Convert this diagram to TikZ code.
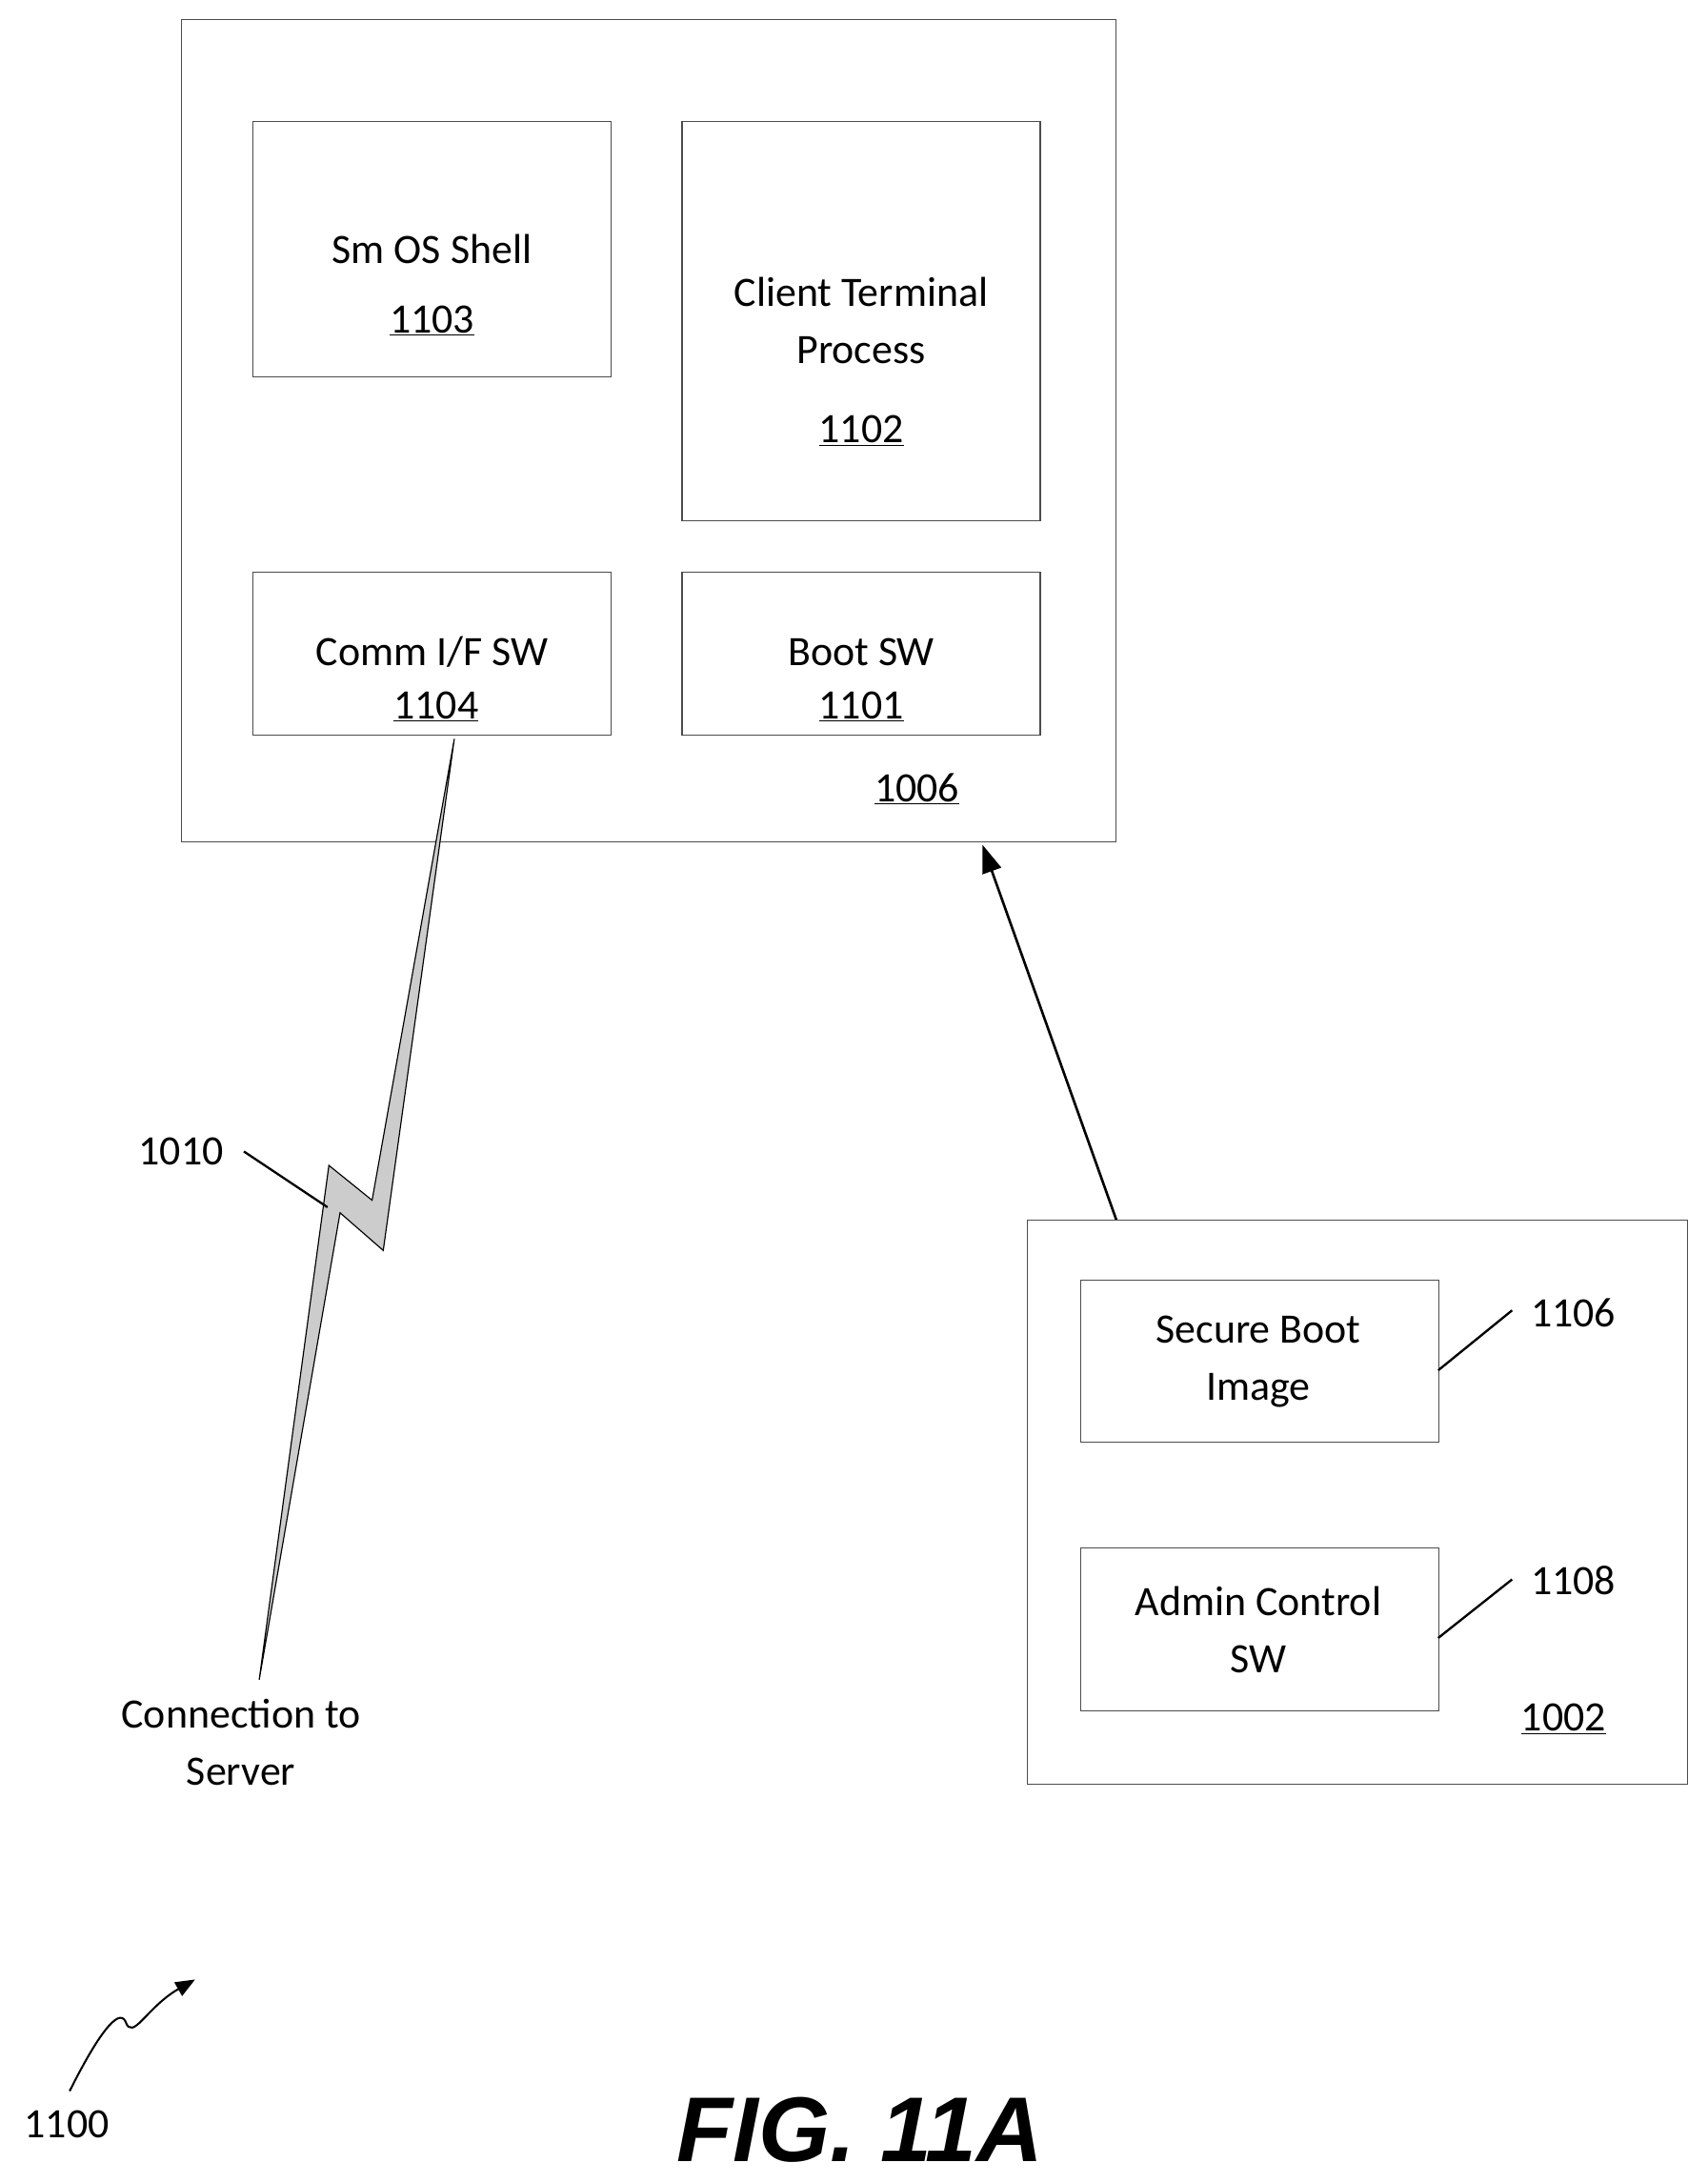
\documentclass[tikz,border=0pt]{standalone}
\usepackage{fontspec}
\setmainfont{Carlito}
\newfontfamily\figfont{Liberation Sans}
\usetikzlibrary{arrows.meta}
\begin{document}
\begin{tikzpicture}[x=1pt,y=-1pt,
 box/.style={draw=black!70,line width=0.8pt},
 lbl/.style={font=\fontsize{30}{41}\selectfont,align=center,inner sep=0pt},
 lead/.style={line width=1.6pt}]
\useasboundingbox (0,0) rectangle (1225,1566);
\draw[box] (130,14) rectangle (801,604);
\node[box,minimum width=257pt,minimum height=183pt,anchor=north west] (b1103) at (181,87) {};
\node[box,minimum width=257pt,minimum height=286pt,anchor=north west] (b1102) at (489,87) {};
\node[box,minimum width=257pt,minimum height=117pt,anchor=north west] (b1104) at (181,410) {};
\node[box,minimum width=257pt,minimum height=117pt,anchor=north west] (b1101) at (489,410) {};
\node[lbl] (t1) at (310,179) {Sm OS Shell};
\node[lbl] (t2) at (310,230) {\underline{1103}};
\node[lbl] (t3) at (618,230) {Client Terminal\\Process};
\node[lbl] (t4) at (618,309) {\underline{1102}};
\node[lbl] (t5) at (310,468) {Comm I/F SW};
\node[lbl] (t6) at (313,507) {\underline{1104}};
\node[lbl] (t7) at (618,468) {Boot SW};
\node[lbl] (t8) at (618,507) {\underline{1101}};
\node[lbl] (l1006) at (658,566) {\underline{1006}};
\coordinate (a1) at (801,875);
\coordinate (a2) at (705,606);
\draw[line width=1.8pt,-{Triangle[length=20pt,width=14pt]}] (a1) -- (a2);
\draw[box] (737,875) rectangle (1211,1280);
\node[box,minimum width=257pt,minimum height=116pt,anchor=north west] (b1106) at (775,918) {};
\node[box,minimum width=257pt,minimum height=117pt,anchor=north west] (b1108) at (775,1110) {};
\node[lbl] (t9) at (903,977) {Secure Boot\\Image};
\node[lbl] (t10) at (903,1169) {Admin Control\\SW};
\node[lbl] (l1106) at (1129,942) {1106};
\node[lbl] (l1108) at (1129,1134) {1108};
\node[lbl] (l1002) at (1122,1233) {\underline{1002}};
\draw[lead] (1032,983) -- (1085,940);
\draw[lead] (1032,1175) -- (1085,1133);
\fill[gray!40,draw=black,line width=0.8pt] (326,530) -- (275,897) -- (244,870) -- (186,1205) -- (236,836) -- (267,861) -- cycle;
\node[lbl] (l1010) at (130,826) {1010};
\draw[lead] (175,826) -- (235,866);
\node[lbl] (conn) at (173,1250) {Connection to\\Server};
\node[lbl] (l1100) at (48,1524) {1100};
\draw[line width=1.4pt,-{Triangle[length=14pt,width=11pt]}] (50,1500) .. controls (70,1460) and (85,1440) .. (90,1450) .. controls (95,1465) and (105,1440) .. (140,1420);
\node[inner sep=0pt,font=\figfont\bfseries\itshape\fontsize{66}{70}\selectfont] (fig) at (617,1528) {FIG. 11A};
\end{tikzpicture}
\end{document}
